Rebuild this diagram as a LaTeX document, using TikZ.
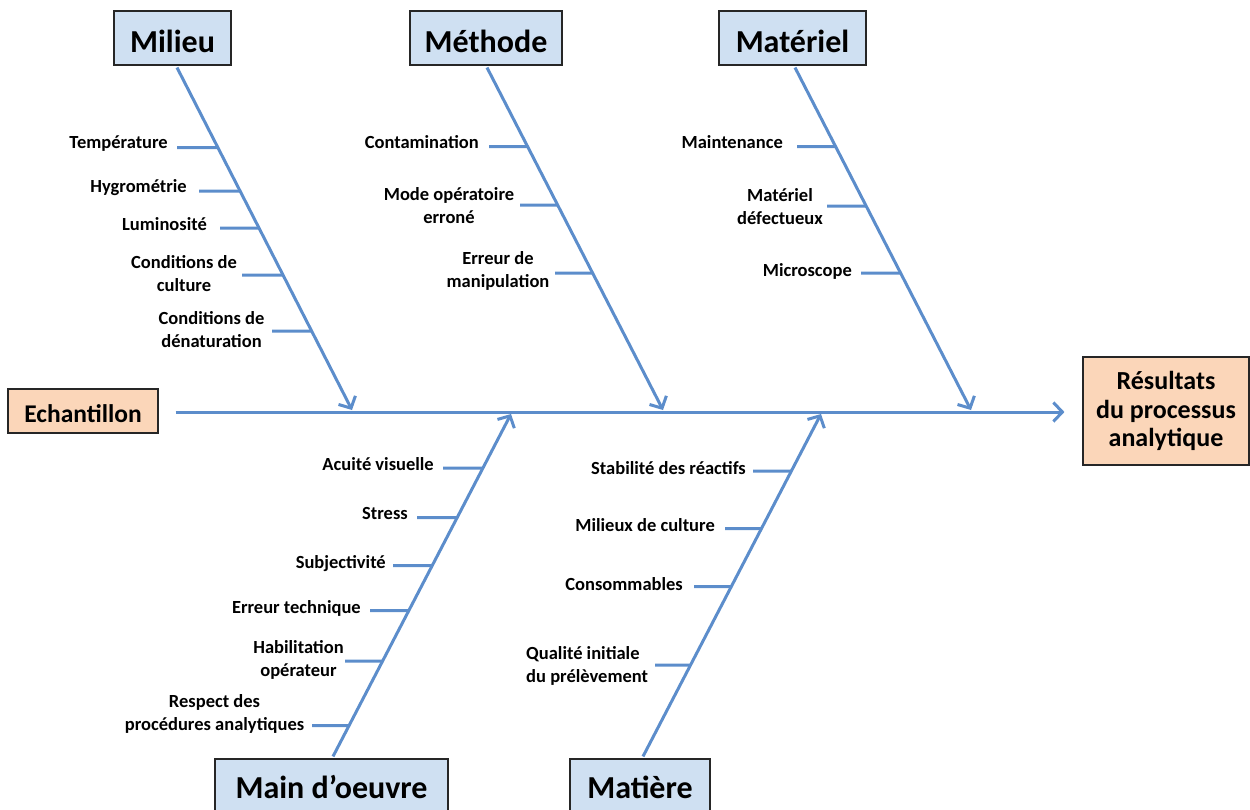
\documentclass[tikz,border=0pt]{standalone}
\usepackage{fontspec}
\setmainfont{Carlito}
\usetikzlibrary{arrows.meta}
\definecolor{bonecol}{RGB}{92,141,203}
\definecolor{catfill}{RGB}{207,224,242}
\definecolor{endfill}{RGB}{251,214,185}
% a short horizontal cause line meeting a bone: #1 bone, #2 height, #3 start
\newcommand\twig[3]{\draw[bone] (#3,#2) -- (intersection of #1A--#1B and 0,#2--1,#2);}
\begin{document}
\begin{tikzpicture}[x=1pt,y=-1pt,
  bone/.style={draw=bonecol,line width=3pt},
  tip/.style={-{Straight Barb[length=9pt,width=19pt]}},
  catbox/.style={draw=black!85,line width=1.1pt,fill=catfill,inner sep=0pt,
    font=\fontsize{32}{37}\selectfont\bfseries,text height=30pt,text depth=2pt,minimum height=54pt},
  lowbox/.style={text height=24pt,text depth=4pt,minimum height=58pt},
  endbox/.style={draw=black!85,line width=1.1pt,fill=endfill,inner sep=0pt},
  lab/.style={font=\fontsize{18.5}{23}\selectfont\bfseries,inner sep=0pt}]
\useasboundingbox (0,0) rectangle (1250,809);

% category boxes
\node[catbox,minimum width=117pt] (milieu) at (172.5,38) {Milieu};
\node[catbox,minimum width=152pt] (methode) at (486,38) {Méthode};
\node[catbox,minimum width=147pt] (materiel) at (792.5,38) {Matériel};
\node[catbox,lowbox,minimum width=233pt] (main) at (331.5,788) {Main d’oeuvre};
\node[catbox,lowbox,minimum width=140pt] (matiere) at (640,788) {Matière};

% input and effect
\node[endbox,font=\fontsize{25.5}{30}\selectfont\bfseries,minimum width=150pt,minimum height=44pt,text height=25pt,text depth=2pt] (echantillon) at (83,411) {Echantillon};
\node[endbox,font=\fontsize{26}{28.5}\selectfont\bfseries,align=center,minimum width=166pt,minimum height=108pt] (resultats) at (1166,411) {Résultats\\du processus\\analytique};

% bone end points
\coordinate (milieuA) at ([xshift=4.5pt,yshift=-2pt]milieu.south);
\coordinate (milieuB) at (352,410);
\coordinate (methodeA) at ([xshift=1pt,yshift=-2pt]methode.south);
\coordinate (methodeB) at (663,410);
\coordinate (materielA) at ([xshift=2.5pt,yshift=-2pt]materiel.south);
\coordinate (materielB) at (971,410);
\coordinate (mainA) at ([xshift=1.5pt,yshift=2pt]main.north);
\coordinate (mainB) at (511,414);
\coordinate (matiereA) at ([xshift=3pt,yshift=2pt]matiere.north);
\coordinate (matiereB) at (821,414);

% spine and bones
\draw[bone,tip] ([xshift=17pt,yshift=-1pt]echantillon.east) -- ([xshift=-18pt,yshift=-1pt]resultats.west);
\draw[bone,tip] (milieuA) -- (milieuB);
\draw[bone,tip] (methodeA) -- (methodeB);
\draw[bone,tip] (materielA) -- (materielB);
\draw[bone,tip] (mainA) -- (mainB);
\draw[bone,tip] (matiereA) -- (matiereB);

% Milieu
\node[lab,anchor=base east] (temp) at (168,148.5) {Température};
\node[lab,anchor=base east] (hygro) at (187,192.5) {Hygrométrie};
\node[lab,anchor=base east] (lumi) at (207,230.5) {Luminosité};
\node[lab,align=center] (culture) at (184,273.5) {Conditions de\\culture};
\node[lab,align=center] (denat) at (211.5,330) {Conditions de\\dénaturation};
\twig{milieu}{147.5}{177}
\twig{milieu}{191}{199}
\twig{milieu}{228}{220}
\twig{milieu}{275}{242}
\twig{milieu}{331}{272}

% Méthode
\node[lab,anchor=base east] (contam) at (479,148.5) {Contamination};
\node[lab,align=center] (modeop) at (449,206) {Mode opératoire\\erroné};
\node[lab,align=center] (manip) at (498,270.5) {Erreur de\\manipulation};
\twig{methode}{146.5}{489}
\twig{methode}{205}{520}
\twig{methode}{273}{555}

% Matériel
\node[lab,anchor=base east] (maint) at (783,148.5) {Maintenance};
\node[lab,align=center] (defect) at (780,206.5) {Matériel\\défectueux};
\node[lab,anchor=base east] (micro) at (852,276) {Microscope};
\twig{materiel}{146.5}{797}
\twig{materiel}{206}{827}
\twig{materiel}{273}{861}

% Main d'oeuvre
\node[lab,anchor=base east] (acuite) at (434,470.5) {Acuité visuelle};
\node[lab,anchor=base east] (stress) at (408,519.5) {Stress};
\node[lab,anchor=base east] (subj) at (386,568.5) {Subjectivité};
\node[lab,anchor=base east] (errtech) at (361,613.5) {Erreur technique};
\node[lab,align=center] (habil) at (298.5,660) {Habilitation\\opérateur};
\node[lab,align=center] (respect) at (214.5,713.5) {Respect des\\procédures analytiques};
\twig{main}{468}{443}
\twig{main}{517.5}{417}
\twig{main}{565.5}{393}
\twig{main}{610.5}{370}
\twig{main}{661}{345}
\twig{main}{725.5}{312}

% Matière
\node[lab,anchor=base east] (stab) at (746,474.5) {Stabilité des réactifs};
\node[lab,anchor=base east] (milcult) at (715,531.5) {Milieux de culture};
\node[lab,anchor=base east] (conso) at (683,590.5) {Consommables};
\node[lab,align=left,anchor=west] (qualite) at (526,665.5) {Qualité initiale\\du prélèvement};
\twig{matiere}{471}{753}
\twig{matiere}{528.5}{725}
\twig{matiere}{586.5}{694}
\twig{matiere}{665}{655}
\end{tikzpicture}
\end{document}
